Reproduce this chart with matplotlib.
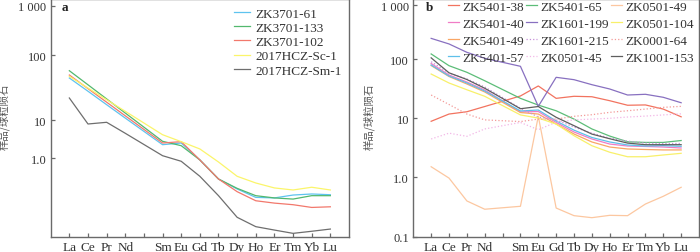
import numpy as np
import matplotlib
matplotlib.use("Agg")
import matplotlib.pyplot as plt

# chondrite-normalised REE patterns, two panels
ree = ["La", "Ce", "Pr", "Nd", "Sm", "Eu", "Gd", "Tb", "Dy", "Ho", "Er", "Tm", "Yb", "Lu"]
ree_pos = [0, 1, 2, 3, 5, 6, 7, 8, 9, 10, 11, 12, 13, 14]   # Pm slot left empty

# panel a
a_names = ["ZK3701-61", "ZK3701-133", "ZK3701-102", "2017HCZ-Sc-1", "2017HCZ-Sm-1"]
zk3701_61 = [44.3, 27.7, 17.2, 10.7, 2.24, 2.48, 0.89, 0.28, 0.153, 0.092, 0.089, 0.106, 0.113, 0.108]
zk3701_133 = [57.3, 34.8, 21.1, 12.8, 2.75, 2.11, 0.89, 0.28, 0.159, 0.102, 0.089, 0.083, 0.102, 0.102]
zk3701_102 = [49.2, 30.4, 18.8, 11.6, 2.48, 2.69, 0.89, 0.28, 0.130, 0.075, 0.065, 0.059, 0.050, 0.052]
hcz_sc1 = [47.0, 31.0, 20.5, 13.6, 4.1, 2.69, 1.73, 0.785, 0.33, 0.22, 0.163, 0.144, 0.17, 0.144]
hcz_sm1 = [21.8, 7.85, 8.7, 4.47, 1.15, 0.82, 0.33, 0.102, 0.0275, 0.0156, 0.0127, 0.0104, 0.0118, 0.0135]
a_data = [zk3701_61, zk3701_133, zk3701_102, hcz_sc1, hcz_sm1]
a_colors = ["#5ec3ef", "#52b86e", "#f2786c", "#fbf56a", "#6e6e6e"]

# panel b
zk5401_38 = [8.9, 11.8, 12.9, 15.8, 23.8, 35.1, 21.7, 23.5, 23.1, 19.8, 16.6, 16.8, 14.3, 10.6]
zk5401_40 = [84, 53.7, 40.9, 30.0, 12.8, 13.0, 8.5, 5.86, 4.46, 3.66, 3.39, 3.33, 3.26, 3.14]
zk5401_49 = [77.6, 50.7, 37.9, 27.8, 12.5, 11.8, 8.0, 5.42, 3.97, 3.26, 3.02, 2.96, 2.91, 2.91]
zk5401_57 = [79.3, 51.6, 39.4, 28.8, 13.3, 13.8, 9.0, 6.3, 4.73, 3.97, 3.53, 3.39, 3.44, 3.35]
zk5401_65 = [124, 77.1, 59.7, 43.0, 21.7, 16.7, 13.4, 9.7, 6.6, 5.0, 4.0, 3.9, 3.9, 4.2]
zk1601_199 = [241, 190, 133, 103, 75.3, 15.9, 49.1, 44.8, 36.9, 31.2, 24.7, 25.4, 22.6, 18.3]
zk1601_215 = [90, 58, 46, 33.7, 14.8, 10.5, 9.4, 7.1, 5.6, 4.6, 4.1, 3.8, 3.74, 3.74]
zk0501_45 = [4.46, 5.6, 4.95, 6.6, 8.5, 6.4, 8.6, 9.4, 9.7, 10.0, 10.5, 10.9, 11.4, 11.9]
zk0501_49 = [1.51, 0.97, 0.40, 0.29, 0.325, 10.8, 0.304, 0.226, 0.209, 0.229, 0.226, 0.355, 0.479, 0.679]
zk0501_104 = [55.8, 39.4, 30.3, 23.5, 11.4, 10.1, 8.0, 5.07, 3.43, 2.66, 2.23, 2.23, 2.39, 2.55]
zk0001_64 = [24.7, 17.1, 11.8, 9.4, 8.8, 9.7, 9.7, 10.8, 11.5, 12.6, 13.4, 14.3, 15.3, 15.9]
zk1001_153 = [105, 58.5, 45.1, 32.1, 14.5, 15.8, 10.4, 7.5, 5.4, 4.5, 3.8, 3.57, 3.57, 3.57]

# legend order (column by column, 3 columns)
b_names = ["ZK5401-38", "ZK5401-40", "ZK5401-49", "ZK5401-57",
           "ZK5401-65", "ZK1601-199", "ZK1601-215", "ZK0501-45",
           "ZK0501-49", "ZK0501-104", "ZK0001-64", "ZK1001-153"]
b_data = [zk5401_38, zk5401_40, zk5401_49, zk5401_57,
          zk5401_65, zk1601_199, zk1601_215, zk0501_45,
          zk0501_49, zk0501_104, zk0001_64, zk1001_153]
b_colors = ["#f2735f", "#f07cc6", "#f9a665", "#5fc0ea",
            "#5cbd78", "#8870c0", "#c58ed8", "#f2b6e6",
            "#fcc7a0", "#f8f06a", "#f39a98", "#5e5e5e"]
b_styles = ["-", "-", "-", "-", "-", "-", ":", ":", "-", "-", ":", "-"]


def warped_scale(logs, pos):
    # the printed axes are not evenly spaced per decade, so map through knots
    logs = list(logs)
    pos = list(pos)
    lo_slope = (pos[1] - pos[0]) / (logs[1] - logs[0])
    hi_slope = (pos[-1] - pos[-2]) / (logs[-1] - logs[-2])
    L = np.array([logs[0] - 30] + logs + [logs[-1] + 30])
    P = np.array([pos[0] - 30 * lo_slope] + pos + [pos[-1] + 30 * hi_slope])

    def fwd(v):
        v = np.clip(np.asarray(v, dtype=float), 1e-30, None)
        return np.interp(np.log10(v), L, P)

    def inv(p):
        return 10 ** np.interp(np.asarray(p, dtype=float), P, L)

    return fwd, inv


serif = "Liberation Serif"
grey = "#6a6a6a"
txt = "#333333"

fig = plt.figure(figsize=(7.0, 2.53), dpi=100)
ax_a = fig.add_axes([50.7 / 700, 15.3 / 253, 298.3 / 700, 237.7 / 253])
ax_b = fig.add_axes([413.3 / 700, 15.3 / 253, 285.7 / 700, 237.7 / 253])

# knots in pixels above the bottom spine
fa = warped_scale([-2.071, 0, 1, 2, 3, 3.136], [0, 78.7, 116.7, 181.7, 231, 237.7])
fb = warped_scale([-1, 0, 1, 2, 3, 3.111], [0, 59.4, 118.4, 177.7, 231.7, 237.7])

for ax, f, lims, ticks, tlabels in [
    (ax_a, fa, (10 ** -2.071, 10 ** 3.136), [1, 10, 100, 1000], ["1.0", "10", "100", "1 000"]),
    (ax_b, fb, (0.1, 10 ** 3.111), [0.1, 1, 10, 100, 1000], ["0.1", "1.0", "10", "100", "1 000"]),
]:
    ax.set_yscale("function", functions=f)
    ax.set_ylim(*lims)
    ax.set_xlim(-1, 15)
    ax.set_yticks(ticks)
    ax.set_yticklabels(tlabels)
    ax.yaxis.set_minor_locator(matplotlib.ticker.NullLocator())
    ax.set_xticks(range(15))
    ax.set_xticklabels(["La", "Ce", "Pr", "Nd", "", "Sm", "Eu", "Gd", "Tb", "Dy", "Ho", "Er", "Tm", "Yb", "Lu"])
    ax.tick_params(direction="in", length=3, width=0.9, color=grey, labelcolor=txt, pad=3)
    ax.tick_params(axis="x", labelsize=9.5)
    ax.tick_params(axis="y", labelsize=9)
    for lab in ax.get_xticklabels() + ax.get_yticklabels():
        lab.set_family(serif)
    for sp in ax.spines.values():
        sp.set_color(grey)
        sp.set_linewidth(1.0)
    ax.set_ylabel("样品/球粒陨石", family=["Noto Sans CJK SC", "DejaVu Sans"], fontsize=7.5, color="#555555")

ax_a.yaxis.set_label_coords(-0.136, 0.508)
ax_b.yaxis.set_label_coords(-0.134, 0.51)

for name, vals, c in zip(a_names, a_data, a_colors):
    ax_a.plot(ree_pos, vals, color=c, lw=0.9, label=name)

for name, vals, c, ls in zip(b_names, b_data, b_colors, b_styles):
    ax_b.plot(ree_pos, vals, color=c, lw=0.9, ls=ls, label=name)

ax_a.text(0.038, 0.965, "a", transform=ax_a.transAxes, family=serif, fontweight="bold",
          fontsize=9.5, va="center", ha="left", color="#222222")
ax_b.text(0.045, 0.965, "b", transform=ax_b.transAxes, family=serif, fontweight="bold",
          fontsize=9.5, va="center", ha="left", color="#222222")

leg_a = ax_a.legend(loc="upper right", bbox_to_anchor=(1.0, 0.995), frameon=False,
                    prop={"family": serif, "size": 9.5}, handlelength=1.2,
                    handletextpad=0.4, labelspacing=0.15, borderaxespad=0.15)
leg_b = ax_b.legend(loc="upper right", bbox_to_anchor=(1.005, 1.02), frameon=False, ncol=3,
                    prop={"family": serif, "size": 9.5}, handlelength=0.8,
                    handletextpad=0.25, labelspacing=0.35, columnspacing=0.2,
                    borderaxespad=0.1)
for leg in (leg_a, leg_b):
    for t in leg.get_texts():
        t.set_color(txt)

fig.savefig("out.png", dpi=100)
